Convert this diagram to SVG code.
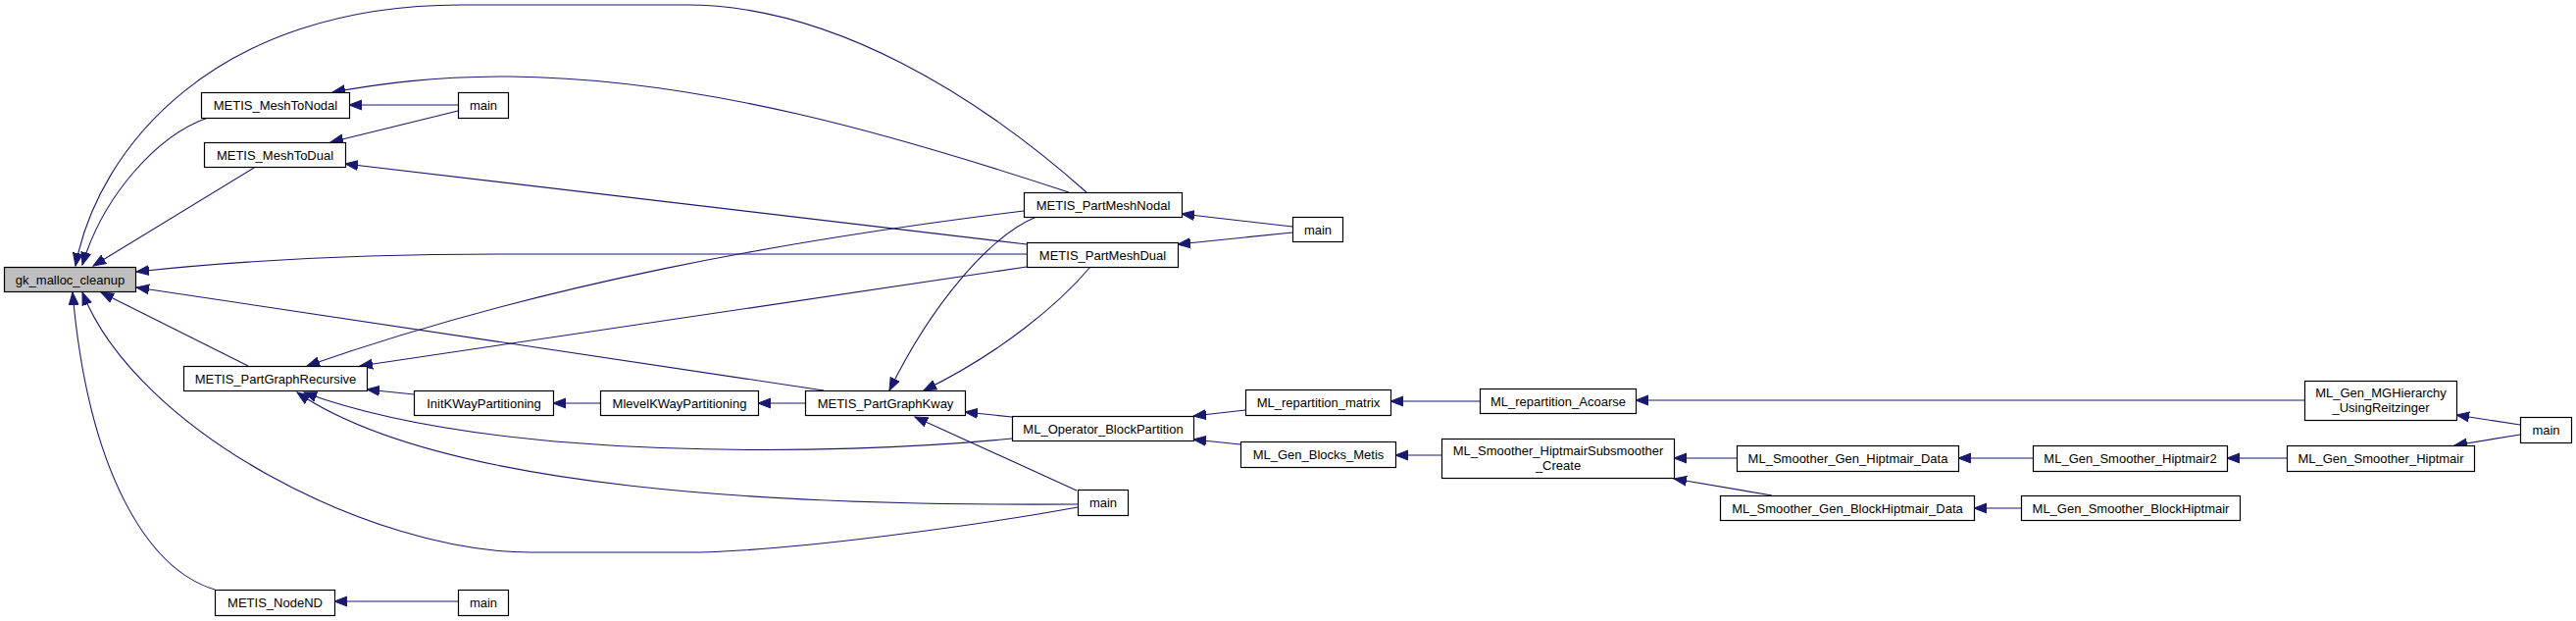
<svg xmlns="http://www.w3.org/2000/svg" width="2627" height="633" viewBox="0 0 2627 633">
<style>
.n rect{fill:#ffffff;stroke:#000000;stroke-width:1.2}
.n.g rect{fill:#bfbfbf}
.n text{font-family:"Liberation Sans",Arial,sans-serif;font-size:13px;fill:#000000;text-anchor:middle}
.e path{fill:none;stroke:#191970;stroke-width:1.1;marker-end:url(#ah)}
</style>
<defs>
<marker id="ah" markerUnits="userSpaceOnUse" markerWidth="14" markerHeight="12" viewBox="0 -6 14 12" refX="13" refY="0" orient="auto">
<path d="M0,-5 L13,0 L0,5 Z" fill="#191970" stroke="#191970" stroke-width="1"/>
</marker>
</defs>
<rect width="2627" height="633" fill="#ffffff"/>
<g id="edges" class="e">
<path d="M212,120 C160,138 105,200 84,270"/>
<path d="M259,171 L95,271"/>
<path d="M1108,196 C1000,100 850,5 700,5 L470,5 C220,5 100,150 77,271"/>
<path d="M1047,259 L520,259 C350,259 220,268 139,277"/>
<path d="M840,398 L139,293"/>
<path d="M253,373 L103,298"/>
<path d="M1099,517 C1000,535 800,563 700,563 L540,563 C380,563 140,440 84,298"/>
<path d="M219,601 C150,580 90,480 74,298"/>
<path d="M467,107 L356,107"/>
<path d="M1090,196 C920,140 720,80 520,78 C440,78 390,85 339,94"/>
<path d="M467,113 L337,145"/>
<path d="M1047,249 L352,167"/>
<path d="M1318,231 L1205,218"/>
<path d="M1318,237 L1201,249"/>
<path d="M1044,215 C800,245 550,290 313,373"/>
<path d="M1047,272 L367,373"/>
<path d="M422,402 L374,397"/>
<path d="M1032,447 C850,465 500,470 310,400"/>
<path d="M1099,514 C800,516 450,500 303,400"/>
<path d="M612,411 L564,411"/>
<path d="M821,411 L773,411"/>
<path d="M1057,221 C1010,240 950,310 907,398"/>
<path d="M1112,272 C1080,310 1020,360 942,398"/>
<path d="M1032,425 L984,420"/>
<path d="M1098,500 L933,425"/>
<path d="M1270,418 L1217,424"/>
<path d="M1265,453 L1217,448"/>
<path d="M1509,409 L1418,409"/>
<path d="M1470,464 L1423,464"/>
<path d="M2350,408 L1668,408"/>
<path d="M1771,467 L1707,467"/>
<path d="M1807,505 L1707,488"/>
<path d="M2073,467 L1997,467"/>
<path d="M2061,518 L2013,518"/>
<path d="M2332,467 L2271,467"/>
<path d="M2570,433 L2505,423"/>
<path d="M2570,443 L2503,454"/>
<path d="M468,613 L341,613"/>
</g>
<g id="gk_malloc_cleanup" class="n g"><rect x="4.5" y="272.5" width="134" height="25"/><text x="71.5" y="289.5">gk_malloc_cleanup</text></g>
<g id="METIS_MeshToNodal" class="n"><rect x="205.5" y="94.5" width="151" height="26"/><text x="281" y="112">METIS_MeshToNodal</text></g>
<g id="main_a" class="n"><rect x="467.5" y="94.5" width="51" height="26"/><text x="493" y="112">main</text></g>
<g id="METIS_MeshToDual" class="n"><rect x="208.5" y="145.5" width="144" height="25"/><text x="280.5" y="162.5">METIS_MeshToDual</text></g>
<g id="METIS_PartMeshNodal" class="n"><rect x="1044.5" y="196.5" width="161" height="25"/><text x="1125" y="213.5">METIS_PartMeshNodal</text></g>
<g id="METIS_PartMeshDual" class="n"><rect x="1047.5" y="247.5" width="154" height="25"/><text x="1124.5" y="264.5">METIS_PartMeshDual</text></g>
<g id="main_b" class="n"><rect x="1318.5" y="221.5" width="51" height="25"/><text x="1344" y="238.5">main</text></g>
<g id="METIS_PartGraphRecursive" class="n"><rect x="187.5" y="373.5" width="187" height="25"/><text x="281" y="390.5">METIS_PartGraphRecursive</text></g>
<g id="InitKWayPartitioning" class="n"><rect x="422.5" y="398.5" width="142" height="25"/><text x="493.5" y="415.5">InitKWayPartitioning</text></g>
<g id="MlevelKWayPartitioning" class="n"><rect x="612.5" y="398.5" width="161" height="25"/><text x="693" y="415.5">MlevelKWayPartitioning</text></g>
<g id="METIS_PartGraphKway" class="n"><rect x="821.5" y="398.5" width="163" height="25"/><text x="903" y="415.5">METIS_PartGraphKway</text></g>
<g id="ML_Operator_BlockPartition" class="n"><rect x="1032.5" y="424.5" width="185" height="25"/><text x="1125" y="441.5">ML_Operator_BlockPartition</text></g>
<g id="main_c" class="n"><rect x="1099.5" y="499.5" width="51" height="26"/><text x="1125" y="517">main</text></g>
<g id="ML_repartition_matrix" class="n"><rect x="1270.5" y="397.5" width="148" height="26"/><text x="1344.5" y="415">ML_repartition_matrix</text></g>
<g id="ML_Gen_Blocks_Metis" class="n"><rect x="1265.5" y="450.5" width="158" height="26"/><text x="1344.5" y="468">ML_Gen_Blocks_Metis</text></g>
<g id="ML_repartition_Acoarse" class="n"><rect x="1509.5" y="396.5" width="159" height="25"/><text x="1589" y="413.5">ML_repartition_Acoarse</text></g>
<g id="ML_Smoother_HiptmairSubsmoother_Create" class="n"><rect x="1470.5" y="447.5" width="237" height="40"/><text x="1589" y="463.5">ML_Smoother_HiptmairSubsmoother</text><text x="1589" y="478.5">_Create</text></g>
<g id="ML_Smoother_Gen_Hiptmair_Data" class="n"><rect x="1771.5" y="454.5" width="226" height="26"/><text x="1884.5" y="472">ML_Smoother_Gen_Hiptmair_Data</text></g>
<g id="ML_Smoother_Gen_BlockHiptmair_Data" class="n"><rect x="1754.5" y="505.5" width="259" height="25"/><text x="1884" y="522.5">ML_Smoother_Gen_BlockHiptmair_Data</text></g>
<g id="ML_Gen_Smoother_Hiptmair2" class="n"><rect x="2073.5" y="454.5" width="198" height="26"/><text x="2172.5" y="472">ML_Gen_Smoother_Hiptmair2</text></g>
<g id="ML_Gen_Smoother_BlockHiptmair" class="n"><rect x="2061.5" y="505.5" width="223" height="25"/><text x="2173" y="522.5">ML_Gen_Smoother_BlockHiptmair</text></g>
<g id="ML_Gen_MGHierarchy_UsingReitzinger" class="n"><rect x="2350.5" y="388.5" width="155" height="40"/><text x="2428" y="404.5">ML_Gen_MGHierarchy</text><text x="2428" y="419.5">_UsingReitzinger</text></g>
<g id="ML_Gen_Smoother_Hiptmair" class="n"><rect x="2332.5" y="454.5" width="191" height="26"/><text x="2428" y="472">ML_Gen_Smoother_Hiptmair</text></g>
<g id="main_d" class="n"><rect x="2570.5" y="425.5" width="52" height="26"/><text x="2596.5" y="443">main</text></g>
<g id="METIS_NodeND" class="n"><rect x="219.5" y="601.5" width="122" height="26"/><text x="280.5" y="619">METIS_NodeND</text></g>
<g id="main_e" class="n"><rect x="467.5" y="601.5" width="51" height="26"/><text x="493" y="619">main</text></g>
</svg>
